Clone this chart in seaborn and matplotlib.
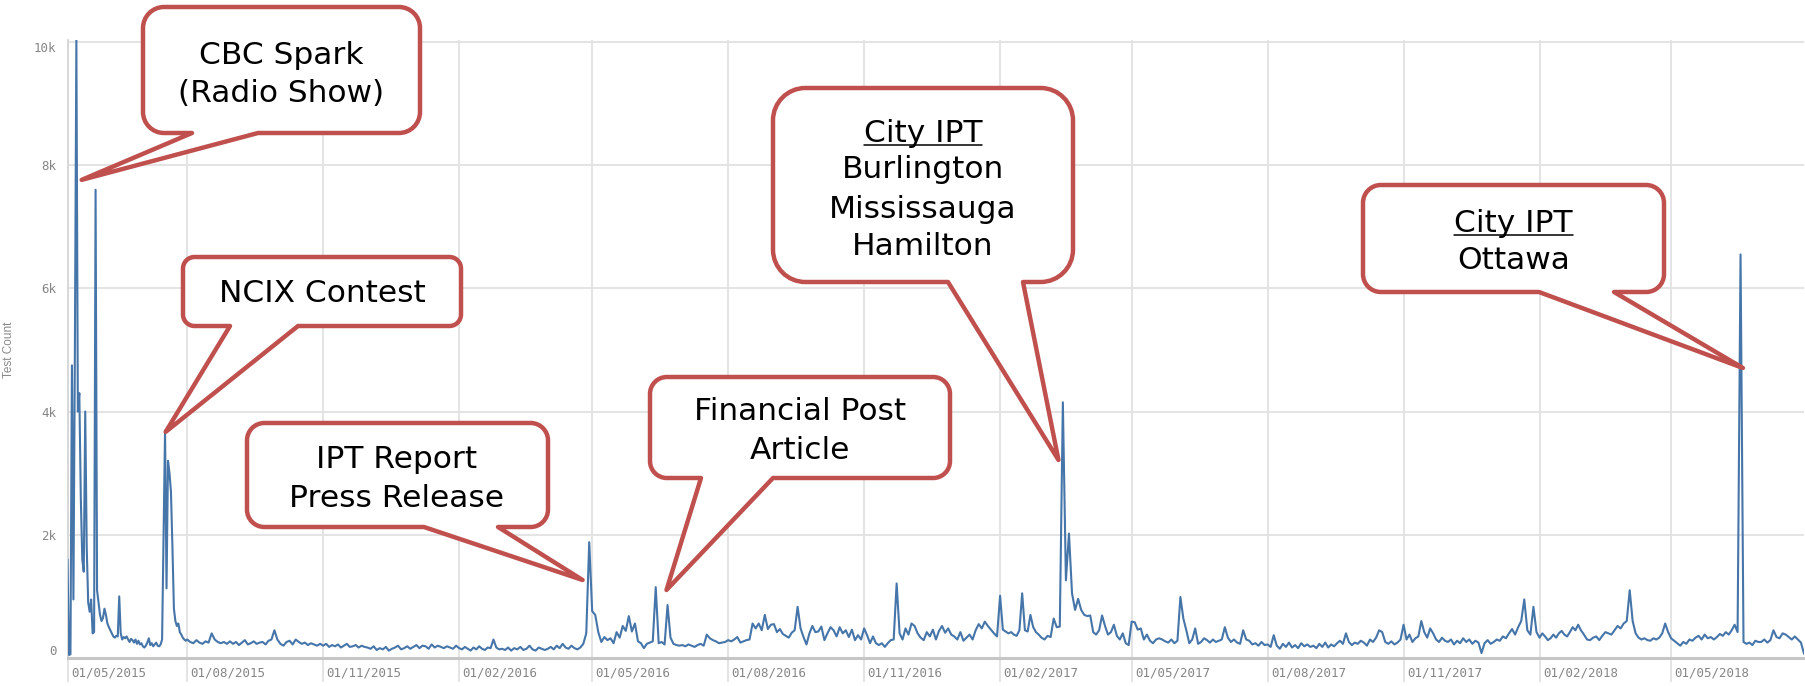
import numpy as np
import pandas as pd
import matplotlib
matplotlib.use("Agg")
import matplotlib.pyplot as plt
import matplotlib.dates as mdates
from matplotlib.path import Path
from matplotlib.patches import PathPatch
from matplotlib.lines import Line2D
from matplotlib.transforms import blended_transform_factory, ScaledTranslation
import seaborn as sns

# ---------------- data ----------------
# daily counts, 12 May 2015 - 31 Jul 2015
early_start = "2015-05-12"
early_counts = [
    1600, 50, 60, 4750, 950, 5000, 10030, 4000, 4300, 2600,
    1600, 1400, 4000, 1800, 900, 750, 950, 400, 420, 7600,
    1100, 900, 700, 600, 650, 800, 700, 560, 500, 450,
    400, 350, 330, 360, 350, 1000, 400, 300, 340, 320,
    350, 300, 260, 310, 290, 250, 300, 230, 280, 220,
    240, 190, 170, 200, 250, 320, 210, 240, 190, 220,
    250, 200, 190, 220, 300, 2000, 3690, 1130, 3200, 3000,
    2700, 1800, 800, 600, 520, 560, 420, 380, 330, 300,
    280,
]

# 15 readings per month from Aug 2015 to Jul 2018
monthly_start = "2015-08-01"
counts_2015 = [
    300, 260, 240, 290, 250, 230, 270, 250, 400, 300, 260, 240, 260, 230, 270,   # Aug
    230, 260, 210, 250, 290, 220, 240, 270, 230, 250, 260, 220, 280, 300, 450,   # Sep
    300, 230, 200, 260, 280, 220, 300, 260, 230, 250, 210, 240, 220, 200, 230,   # Oct
    200, 230, 180, 210, 190, 220, 170, 200, 230, 180, 190, 210, 170, 200, 180,   # Nov
    170, 150, 190, 130, 160, 140, 180, 120, 150, 170, 200, 140, 160, 190, 150,   # Dec
]
counts_2016 = [
    180, 210, 160, 200, 190, 150, 220, 170, 200, 180, 160, 190, 170, 150, 200,   # Jan
    160, 140, 180, 150, 120, 170, 140, 190, 150, 130, 170, 160, 300, 170, 140,   # Feb
    150, 130, 170, 120, 160, 140, 180, 130, 150, 200, 140, 120, 170, 150, 130,   # Mar
    150, 180, 140, 200, 160, 230, 170, 150, 200, 160, 140, 170, 230, 400, 1880,  # Apr
    760, 700, 420, 260, 340, 290, 320, 240, 420, 330, 520, 440, 680, 430, 560,   # May
    270, 240, 160, 230, 250, 270, 1150, 240, 260, 220, 860, 330, 230, 210, 200,  # Jun
    210, 190, 220, 200, 180, 210, 230, 200, 380, 320, 290, 270, 240, 250, 260,   # Jul
    290, 270, 300, 340, 250, 270, 290, 300, 560, 480, 560, 450, 700, 470, 540,   # Aug
    550, 420, 470, 390, 360, 330, 410, 450, 830, 480, 340, 220, 400, 520, 420,   # Sep
    430, 510, 290, 400, 500, 450, 350, 500, 400, 450, 340, 460, 290, 370, 300,   # Oct
    480, 370, 240, 350, 240, 210, 240, 180, 240, 290, 300, 1210, 400, 300, 480,  # Nov
    380, 560, 520, 400, 330, 290, 420, 350, 460, 300, 440, 520, 410, 480, 380,   # Dec
]
counts_2017 = [
    350, 300, 420, 280, 330, 380, 300, 450, 550, 480, 590, 520, 460, 400, 350,   # Jan
    1010, 460, 430, 400, 420, 380, 360, 450, 1050, 450, 430, 700, 500, 420, 380, # Feb
    330, 300, 360, 340, 640, 500, 510, 4150, 1260, 2020, 1050, 780, 960, 780, 700,  # Mar
    680, 690, 420, 380, 450, 690, 520, 380, 420, 540, 360, 300, 400, 240, 210,   # Apr
    590, 580, 460, 480, 300, 380, 280, 240, 300, 320, 300, 270, 250, 300, 240,   # May
    280, 990, 640, 450, 240, 300, 480, 230, 260, 320, 290, 250, 300, 260, 280,   # Jun
    300, 500, 330, 260, 300, 250, 230, 450, 300, 280, 220, 240, 200, 260, 210,   # Jul
    220, 180, 370, 200, 150, 230, 180, 250, 170, 210, 160, 240, 190, 220, 180,   # Aug
    200, 160, 230, 180, 250, 170, 220, 190, 240, 280, 230, 400, 260, 210, 250,   # Sep
    230, 280, 250, 200, 300, 260, 330, 450, 420, 260, 230, 270, 220, 250, 300,   # Oct
    540, 300, 380, 260, 320, 350, 600, 420, 330, 480, 400, 300, 260, 330, 280,   # Nov
    260, 300, 220, 280, 240, 320, 260, 300, 230, 280, 250, 80, 240, 290, 230,    # Dec
]
counts_2018 = [
    260, 300, 280, 350, 320, 400, 470, 380, 500, 600, 950, 450, 380, 830, 420,   # Jan
    330, 400, 350, 290, 320, 380, 330, 400, 440, 380, 350, 420, 500, 450, 540,   # Feb
    450, 380, 300, 290, 330, 350, 290, 360, 420, 400, 380, 450, 520, 480, 560,   # Mar
    600, 1100, 600, 400, 330, 300, 320, 290, 280, 320, 300, 330, 400, 560, 420,  # Apr
    320, 280, 240, 200, 260, 230, 300, 280, 330, 360, 300, 380, 320, 340, 300,   # May
    340, 390, 360, 420, 380, 450, 540, 420, 6550, 260, 230, 250, 210, 280, 260,  # Jun
    260, 300, 250, 290, 450, 340, 320, 400, 380, 340, 300, 350, 300, 250, 70,    # Jul
]
per_month = 15

y_ticks = [0, 2000, 4000, 6000, 8000, 10000]
y_tick_labels = ["0", "2k", "4k", "6k", "8k", "10k"]
x_tick_dates = ["2015-05-01", "2015-08-01", "2015-11-01", "2016-02-01", "2016-05-01",
                "2016-08-01", "2016-11-01", "2017-02-01", "2017-05-01", "2017-08-01",
                "2017-11-01", "2018-02-01", "2018-05-01"]
x_tick_labels = ["01/05/2015", "01/08/2015", "01/11/2015", "01/02/2016", "01/05/2016",
                 "01/08/2016", "01/11/2016", "01/02/2017", "01/05/2017", "01/08/2017",
                 "01/11/2017", "01/02/2018", "01/05/2018"]

# callouts: text lines, tip (date, value) that the wedge points at
callout_texts = [
    ["CBC Spark", "(Radio Show)"],
    ["NCIX Contest"],
    ["IPT Report", "Press Release"],
    ["Financial Post", "Article"],
    ["City IPT", "Burlington", "Mississauga", "Hamilton"],
    ["City IPT", "Ottawa"],
]
callout_tips = [
    ("2015-05-21 14:00", 7760),
    ("2015-07-17 10:00", 3670),
    ("2016-04-24 12:00", 1266),
    ("2016-06-20 07:00", 1104),
    ("2017-03-12 12:00", 3214),
    ("2018-06-18 14:00", 4707),
]
callout_underline = [False, False, False, False, True, True]

# ---------------- layout (pixels, y down) ----------------
W, H = 1806, 686
AX_L, AX_R, AX_T, AX_B = 67.5, 1804.0, 40.0, 658.0
callout_boxes = [
    (143, 7, 420, 133), (183, 257, 461, 326), (247, 423, 548, 527),
    (650, 377, 950, 478), (773, 88, 1073, 282), (1363, 185, 1664, 292),
]
callout_bases = [(192, 258), (230, 298), (424, 498), (701, 773), (948, 1023), (1539, 1614)]
callout_cx = [281.5, 322, 397, 800, 923, 1513.5]
callout_baselines = [
    [63.5, 101.5], [302.5], [468.3, 506.7], [420, 459],
    [141.7, 178.3, 218.3, 255], [231.7, 269.3],
]

# ---------------- build series ----------------
early_dates = pd.date_range(early_start, periods=len(early_counts), freq="D")
monthly_counts = counts_2015 + counts_2016 + counts_2017 + counts_2018
n_months = len(monthly_counts) // per_month
month_dates = []
for m in pd.date_range(monthly_start, periods=n_months, freq="MS"):
    month_dates.extend(pd.date_range(m, m + pd.offsets.MonthBegin(1), periods=per_month + 1)[:-1])
dates = list(early_dates) + month_dates
values = list(early_counts) + monthly_counts
df = pd.DataFrame({"Date": pd.to_datetime(dates), "Test Count": values})

# ---------------- plot ----------------
sns.set_style("white")
plt.rcParams["font.family"] = ["DejaVu Sans"]

fig = plt.figure(figsize=(W / 100, H / 100), dpi=100)
fig.patch.set_facecolor("white")
ax = fig.add_axes([AX_L / W, 1 - AX_B / H, (AX_R - AX_L) / W, (AX_B - AX_T) / H])

sns.lineplot(data=df, x="Date", y="Test Count", ax=ax, color="#4675a9",
             linewidth=1.5, estimator=None, zorder=3)

x0, x1 = df["Date"].iloc[0], df["Date"].iloc[-1]
ax.set_xlim(x0, x1)
ax.set_ylim(0, 10030)

grid_c = "#e2e2e2"
ax.set_yticks(y_ticks)
ax.set_yticklabels(y_tick_labels)
tick_nums = [max(mdates.date2num(pd.Timestamp(d)), mdates.date2num(x0)) for d in x_tick_dates]
ax.set_xticks(tick_nums)
ax.set_xticklabels(x_tick_labels)
ax.tick_params(axis="both", length=0)
ax.tick_params(axis="y", pad=8.0, labelsize=9, labelcolor="#858585")
ax.tick_params(axis="x", pad=6.2, labelsize=9, labelcolor="#858585")
for lab in ax.get_yticklabels() + ax.get_xticklabels():
    lab.set_fontfamily("DejaVu Sans Mono")
ylabs = ax.get_yticklabels()
ylabs[0].set_va("bottom")
ylabs[-1].set_va("top")
shift = ScaledTranslation(3.5 / 100, 0, fig.dpi_scale_trans)
for lab in ax.get_xticklabels():
    lab.set_ha("left")
    lab.set_transform(lab.get_transform() + shift)

ax.grid(True, color=grid_c, linewidth=1.3, zorder=0)
ax.set_axisbelow(True)
for s in ["top", "right"]:
    ax.spines[s].set_visible(False)
ax.spines["left"].set_color("#d6d6d6")
ax.spines["left"].set_linewidth(1.3)
ax.spines["bottom"].set_color("#c6c6c6")
ax.spines["bottom"].set_linewidth(2.2)
trans = blended_transform_factory(ax.transData, ax.transAxes)
ax.vlines(tick_nums, -24 / (AX_B - AX_T), 0, transform=trans, clip_on=False,
          colors=grid_c, linewidth=1.3)

ax.set_xlabel("")
ax.set_ylabel("")
fig.text(9.5 / W, 1 - 350 / H, "Test Count", rotation=90, ha="center", va="center",
         fontsize=8.5, color="#8a8a8a", family="Liberation Sans")

# ---------------- callouts ----------------
to_fig = fig.transFigure.inverted()


def px(x, y):
    return (x / W, 1 - y / H)


K = 0.5523
renderer = fig.canvas.get_renderer()
edge = "#c0504d"
for box, base, tip, cx, bls, lines, ul in zip(callout_boxes, callout_bases, callout_tips,
                                               callout_cx, callout_baselines,
                                               callout_texts, callout_underline):
    bx0, by0, bx1, by1 = box
    r = min(bx1 - bx0, by1 - by0) * 0.1667
    tx, ty = to_fig.transform(ax.transData.transform(
        (mdates.date2num(pd.Timestamp(tip[0])), tip[1])))
    verts, codes = [], []

    def add(pt, code):
        verts.append(pt)
        codes.append(code)

    add(px(bx0 + r, by0), Path.MOVETO)
    add(px(bx1 - r, by0), Path.LINETO)
    add(px(bx1 - r + K * r, by0), Path.CURVE4)
    add(px(bx1, by0 + r - K * r), Path.CURVE4)
    add(px(bx1, by0 + r), Path.CURVE4)
    add(px(bx1, by1 - r), Path.LINETO)
    add(px(bx1, by1 - r + K * r), Path.CURVE4)
    add(px(bx1 - r + K * r, by1), Path.CURVE4)
    add(px(bx1 - r, by1), Path.CURVE4)
    add(px(base[1], by1), Path.LINETO)
    add((tx, ty), Path.LINETO)
    add(px(base[0], by1), Path.LINETO)
    add(px(bx0 + r, by1), Path.LINETO)
    add(px(bx0 + r - K * r, by1), Path.CURVE4)
    add(px(bx0, by1 - r + K * r), Path.CURVE4)
    add(px(bx0, by1 - r), Path.CURVE4)
    add(px(bx0, by0 + r), Path.LINETO)
    add(px(bx0, by0 + r - K * r), Path.CURVE4)
    add(px(bx0 + r - K * r, by0), Path.CURVE4)
    add(px(bx0 + r, by0), Path.CURVE4)
    add(px(bx0 + r, by0), Path.CLOSEPOLY)
    patch = PathPatch(Path(verts, codes), facecolor="white", edgecolor=edge,
                      linewidth=3.2, joinstyle="round", transform=fig.transFigure, zorder=5)
    fig.add_artist(patch)

    for i, (line, bl) in enumerate(zip(lines, bls)):
        t = fig.text(cx / W, 1 - bl / H, line, ha="center", va="baseline",
                     fontsize=22.5, color="black", zorder=6)
        if ul and i == 0:
            ext = t.get_window_extent(renderer)
            fx0 = to_fig.transform((ext.x0, 0))[0]
            fx1 = to_fig.transform((ext.x1, 0))[0]
            yy = 1 - (bl + 3.5) / H
            fig.add_artist(Line2D([fx0, fx1], [yy, yy], transform=fig.transFigure,
                                  color="black", linewidth=1.1, zorder=6))

fig.savefig("out.png", dpi=100, facecolor="white")
